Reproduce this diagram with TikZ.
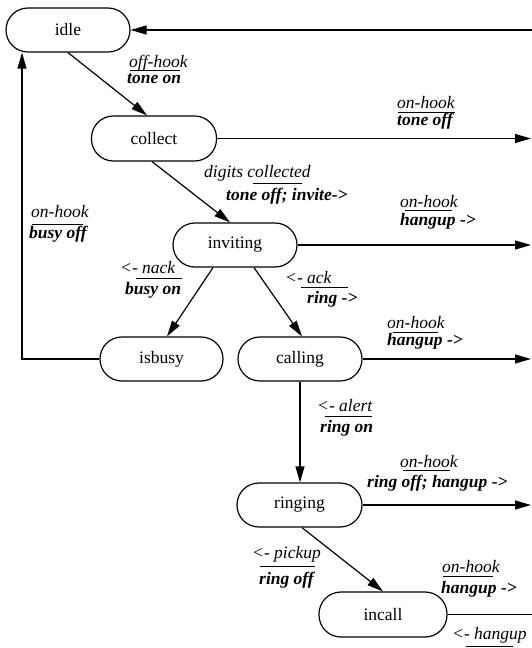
\documentclass[tikz,border=0pt]{standalone}
\usepackage{fontspec}
\setmainfont{Liberation Serif}
\usetikzlibrary{arrows.meta}
\newcommand\evbar[4]{\rlap{\hspace*{#1pt}\raisebox{-#3pt}{\rule{#2pt}{0.9pt}}}#4}
\tikzset{
  state/.style={draw, line width=1.2pt, rounded corners=21.9pt, minimum width=124pt,
    minimum height=44pt, inner sep=0pt, font=\fontsize{17.5}{19}\selectfont},
  evt/.style={anchor=base west, inner sep=0pt, font=\fontsize{17.5}{19}\selectfont\itshape},
  act/.style={anchor=base west, inner sep=0pt, font=\fontsize{17.5}{19}\selectfont\bfseries\itshape},
  tr/.style={line width=1.2pt, -{Triangle[length=16pt,width=9pt]}},
  plain/.style={line width=1.2pt}
}
\begin{document}
\begin{tikzpicture}[x=1pt,y=-1pt]
\useasboundingbox (0,0) rectangle (532,648);
% states
\node[state] (idle) at (68,30) {idle};
\node[state, minimum width=125pt, minimum height=45pt] (collect) at (154,138.5) {collect};
\node[state] (inviting) at (235,245) {inviting};
\node[state, minimum width=123pt] (isbusy) at (161.5,359) {isbusy};
\node[state] (calling) at (300,359) {calling};
\node[state, minimum width=125pt] (ringing) at (299.5,505) {ringing};
\node[state, minimum width=128pt, minimum height=45pt] (incall) at (383,614.5) {incall};
% right edge
\coordinate (edge) at (531,0);
\coordinate (edgeB) at (532,0);
\coordinate (inR) at (532,30);
% transitions
\draw[tr] (idle.south) -- ([xshift=-7pt]collect.north);
\draw[tr] ([xshift=-2pt]collect.south) -- ([xshift=-5pt]inviting.north);
\draw[tr] ([xshift=-22pt]inviting.south) -- ([xshift=5.5pt]isbusy.north);
\draw[tr] ([xshift=19pt]inviting.south) -- ([xshift=2pt]calling.north);
\draw[tr] (calling.south) -- ([xshift=0.5pt]ringing.north);
\draw[tr] ([xshift=2.5pt]ringing.south) -- (incall.north);
\draw[tr] (isbusy.west) -| ([xshift=-46pt]idle.south);
\draw[tr] (inR) -- (idle.east);
\draw[tr] (collect.east) -- (collect.east -| edge);
\draw[tr] (inviting.east) -- (inviting.east -| edge);
\draw[tr] (calling.east) -- (calling.east -| edge);
\draw[tr] (ringing.east) -- (ringing.east -| edge);
\draw[plain] (incall.east) -- (incall.east -| edgeB);
% labels
\node[evt] (l1a) at (129,67) {\evbar{1}{50}{4}{off-hook}};
\node[act] (l1b) at (127,83) {tone on};
\node[evt] (l2a) at (397,108) {\evbar{1}{57}{5}{on-hook}};
\node[act] (l2b) at (397,125) {tone off};
\node[evt] (l3a) at (204,177) {\evbar{49}{49}{7}{digits collected}};
\node[act] (l3b) at (226,200) {tone off; invite->};
\node[evt] (l4a) at (400,207) {\evbar{5}{47}{4}{on-hook}};
\node[act] (l4b) at (400,225) {hangup ->};
\node[evt] (l5a) at (31,217) {\evbar{1}{51}{8}{on-hook}};
\node[act] (l5b) at (29,238) {busy off};
\node[evt] (l6a) at (120,273) {\evbar{16}{46}{6}{<- nack}};
\node[act] (l6b) at (125,294) {busy on};
\node[evt] (l7a) at (285,283) {\evbar{16}{47}{5}{<- ack}};
\node[act] (l7b) at (307,303) {ring ->};
\node[evt] (l8a) at (387,328) {\evbar{6}{45}{5}{on-hook}};
\node[act] (l8b) at (387,345) {hangup ->};
\node[evt] (l9a) at (317,411) {\evbar{8}{47}{6}{<- alert}};
\node[act] (l9b) at (320,432) {ring on};
\node[evt] (l10a) at (400,467) {\evbar{3}{47}{4}{on-hook}};
\node[act] (l10b) at (367,487) {ring off; hangup ->};
\node[evt] (l11a) at (252,558) {\evbar{8}{55}{9}{<- pickup}};
\node[act] (l11b) at (259,584) {ring off};
\node[evt] (l12a) at (442,572) {\evbar{1}{50}{5}{on-hook}};
\node[act] (l12b) at (441,593) {hangup ->};
\node[evt] (l13a) at (452,639) {\evbar{14}{47}{8}{<- hangup}};
\end{tikzpicture}
\end{document}
